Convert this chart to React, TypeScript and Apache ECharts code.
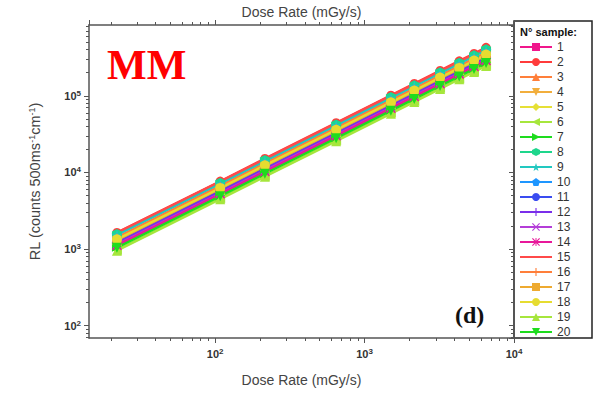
import React, { useEffect, useRef } from "react";
import * as echarts from "echarts";

// ---- Data ----
const doseRate = [22, 108, 215, 645, 1500, 2150, 3200, 4300, 5400, 6500];

const sample1 = [1170, 5500, 10800, 31500, 72000, 103000, 151000, 202000, 252000, 302000];
const sample2 = [1650, 7700, 15200, 44500, 102000, 145000, 214000, 286000, 358000, 430000];
const sample3 = [1430, 6700, 13200, 38500, 88000, 125000, 185000, 246000, 308000, 368000];
const sample4 = [1330, 6200, 12200, 35700, 81600, 116000, 171000, 228000, 285000, 342000];
const sample5 = [1370, 6400, 12600, 36800, 84000, 120000, 176000, 235000, 294000, 352000];
const sample6 = [975, 4600, 9000, 26300, 60000, 85500, 126000, 168000, 210000, 251000];
const sample7 = [1070, 5000, 9800, 28700, 65600, 93500, 138000, 184000, 230000, 275000];
const sample8 = [1570, 7350, 14500, 42300, 96500, 137500, 203000, 270000, 338000, 405000];
const sample9 = [1520, 7100, 14000, 41000, 93600, 133000, 197000, 262000, 328000, 392000];
const sample10 = [1365, 6400, 12600, 36700, 84000, 119700, 176000, 235000, 294000, 352000];
const sample11 = [1235, 5800, 11400, 33200, 76000, 108000, 160000, 213000, 266000, 318000];
const sample12 = [1200, 5600, 11000, 32200, 73600, 105000, 155000, 206000, 258000, 308000];
const sample13 = [1145, 5370, 10600, 30800, 70400, 100000, 148000, 197000, 246000, 295000];
const sample14 = [1120, 5250, 10300, 30100, 68800, 98000, 144000, 193000, 241000, 288000];
const sample15 = [1630, 7600, 15000, 43800, 100000, 142000, 210000, 280000, 350000, 420000];
const sample16 = [1400, 6600, 13000, 37800, 86400, 123000, 181000, 242000, 302000, 362000];
const sample17 = [1300, 6100, 12000, 35000, 80000, 114000, 168000, 224000, 280000, 335000];
const sample18 = [1340, 6280, 12400, 36000, 82400, 117000, 173000, 231000, 288000, 345000];
const sample19 = [950, 4450, 8760, 25500, 58400, 83200, 123000, 164000, 204000, 245000];
const sample20 = [1040, 4880, 9600, 28000, 64000, 91000, 134000, 179000, 224000, 268000];

const sampleNames = ["1", "2", "3", "4", "5", "6", "7", "8", "9", "10", "11", "12", "13", "14", "15", "16", "17", "18", "19", "20"];
const sampleValues = [
  sample1, sample2, sample3, sample4, sample5, sample6, sample7, sample8, sample9, sample10,
  sample11, sample12, sample13, sample14, sample15, sample16, sample17, sample18, sample19, sample20,
];

const xMinorTicks = [20, 30, 40, 50, 60, 70, 80, 90, 200, 300, 400, 500, 600, 700, 800, 900, 2000, 3000, 4000, 5000, 6000, 7000, 8000, 9000];
const yMinorTicks = [70, 80, 90, 200, 300, 400, 500, 600, 700, 800, 900, 2000, 3000, 4000, 5000, 6000, 7000, 8000, 9000,
  20000, 30000, 40000, 50000, 60000, 70000, 80000, 90000, 200000, 300000, 400000, 500000, 600000, 700000, 800000];

// ---- Styles ----
const colors = [
  "#F0168C", "#FF3B3B", "#FF7F3A", "#F2AE3C", "#E6E036", "#A6E63C", "#1EDC1E", "#1ED68C", "#22C8C0", "#1E96FF",
  "#3A4CF0", "#7A2EEA", "#B43ED8", "#E8189A", "#FF4A4A", "#FF7F3A", "#EEAA30", "#E6DC30", "#A6E63C", "#1EDC1E",
];
const triDown = "path://M0,0L10,0L5,9Z";
const triLeft = "path://M9,0L9,10L0,5Z";
const triRight = "path://M0,0L9,5L0,10Z";
const hexagon = "path://M5,0L9.33,2.5L9.33,7.5L5,10L0.67,7.5L0.67,2.5Z";
const star = "path://M5,0L6.18,3.38L9.76,3.45L6.9,5.62L7.94,9.05L5,7L2.06,9.05L3.1,5.62L0.24,3.45L3.82,3.38Z";
const pentagon = "path://M5,0L9.76,3.45L7.94,9.05L2.06,9.05L0.24,3.45Z";
const plus = "path://M4.3,0H5.7V4.3H10V5.7H5.7V10H4.3V5.7H0V4.3H4.3Z";
const cross = "path://M1,0L5,4L9,0L10,1L6,5L10,9L9,10L5,6L1,10L0,9L4,5L0,1Z";
const asterisk = "path://M1,0L5,4L9,0L10,1L6,5L10,9L9,10L5,6L1,10L0,9L4,5L0,1ZM4.4,0H5.6V10H4.4Z";
const symbols = [
  "rect", "circle", "triangle", triDown, "diamond", triLeft, triRight, hexagon, star, pentagon,
  "circle", plus, cross, asterisk, "none", plus, "rect", "circle", "triangle", triDown,
];
const symbolSizes = [9, 9, 10, 10, 10, 10, 10, 10, 11, 10, 8, 10, 9, 10, 0, 8, 9, 10, 10, 10];

const X_MIN = 14.3, X_MAX = 10000, Y_MIN = 69, Y_MAX = 840000;
const axisColor = "#555";
const font = "Liberation Sans, Arial, sans-serif";

const powLabel = (v: number) => {
  const l = Math.log10(v);
  const e = Math.round(l);
  if (Math.abs(l - e) > 1e-6) return "";
  return `{b|10}{s|${e}}`;
};
const labelRich = {
  b: { fontSize: 11, fontWeight: "bold", color: "#333", fontFamily: font },
  s: { fontSize: 8, fontWeight: "bold", color: "#333", fontFamily: font, verticalAlign: "top", padding: [0, 0, 5, 0] },
};

export default function App() {
  const ref = useRef<HTMLDivElement>(null);
  useEffect(() => {
    if (!ref.current) return;
    const chart = echarts.init(ref.current, undefined, { renderer: "svg" });
    const series = sampleNames.map((name, i) => ({
      name,
      type: "line",
      xAxisIndex: 0,
      yAxisIndex: 0,
      data: doseRate.map((x, j) => [x, sampleValues[i][j]]),
      symbol: symbols[i],
      symbolSize: symbolSizes[i],
      showSymbol: symbols[i] !== "none",
      lineStyle: { color: colors[i], width: 2.2 },
      itemStyle: { color: colors[i] },
      emphasis: { disabled: true },
    }));
    const minorAxisCommon = {
      type: "value",
      gridIndex: 0,
      axisLine: { show: false, onZero: false },
      axisLabel: { show: false },
      splitLine: { show: false },
    };
    chart.setOption({
      animation: false,
      grid: { left: 89, top: 24, width: 425, height: 314, containLabel: false },
      xAxis: [
        {
          type: "log", gridIndex: 0, position: "bottom", min: X_MIN, max: X_MAX,
          axisLine: { onZero: false, lineStyle: { color: axisColor, width: 1.5 } },
          axisTick: { length: 5, lineStyle: { color: axisColor, width: 1 } },
          axisLabel: { formatter: powLabel, rich: labelRich, margin: 9, showMinLabel: false },
          splitLine: { show: false },
          name: "Dose Rate (mGy/s)", nameLocation: "middle", nameGap: 35,
          nameTextStyle: { fontSize: 14, color: "#444", fontFamily: font },
        },
        {
          type: "log", gridIndex: 0, position: "top", min: X_MIN, max: X_MAX,
          axisLine: { onZero: false, lineStyle: { color: axisColor, width: 1.5 } },
          axisTick: { length: 5, lineStyle: { color: axisColor, width: 1 } },
          axisLabel: { show: false },
          splitLine: { show: false },
          name: "Dose Rate (mGy/s)", nameLocation: "middle", nameGap: 6,
          nameTextStyle: { fontSize: 14, color: "#444", fontFamily: font },
        },
        {
          ...minorAxisCommon, position: "bottom", min: Math.log10(X_MIN), max: Math.log10(X_MAX),
          axisTick: { length: 3, customValues: xMinorTicks.map((v) => Math.log10(v)), lineStyle: { color: axisColor, width: 1 } },
        },
        {
          ...minorAxisCommon, position: "top", min: Math.log10(X_MIN), max: Math.log10(X_MAX),
          axisTick: { length: 3, customValues: xMinorTicks.map((v) => Math.log10(v)), lineStyle: { color: axisColor, width: 1 } },
        },
      ],
      yAxis: [
        {
          type: "log", gridIndex: 0, position: "left", min: Y_MIN, max: Y_MAX,
          axisLine: { onZero: false, lineStyle: { color: axisColor, width: 1.5 } },
          axisTick: { length: 5, lineStyle: { color: axisColor, width: 1 } },
          axisLabel: { formatter: powLabel, rich: labelRich, margin: 8, showMinLabel: false, showMaxLabel: false },
          splitLine: { show: false },
          name: "{a|RL (counts 500ms}{s|-1}{a|cm}{s|-1}{a|)}", nameLocation: "middle", nameGap: 47, nameRotate: 90,
          nameTextStyle: {
            rich: {
              a: { fontSize: 14.5, color: "#444", fontFamily: font },
              s: { fontSize: 9, color: "#444", fontFamily: font, verticalAlign: "top", padding: [0, 0, 6, 0] },
            },
          },
        },
        {
          type: "log", gridIndex: 0, position: "right", min: Y_MIN, max: Y_MAX,
          axisLine: { onZero: false, lineStyle: { color: axisColor, width: 1.5 } },
          axisTick: { inside: true, length: 5, lineStyle: { color: axisColor, width: 1 } },
          axisLabel: { show: false },
          splitLine: { show: false },
        },
        {
          ...minorAxisCommon, position: "left", min: Math.log10(Y_MIN), max: Math.log10(Y_MAX),
          axisTick: { length: 3, customValues: yMinorTicks.map((v) => Math.log10(v)), lineStyle: { color: axisColor, width: 1 } },
        },
        {
          ...minorAxisCommon, position: "right", min: Math.log10(Y_MIN), max: Math.log10(Y_MAX),
          axisTick: { inside: true, length: 3, customValues: yMinorTicks.map((v) => Math.log10(v)), lineStyle: { color: axisColor, width: 1 } },
        },
      ],
      legend: {
        orient: "vertical",
        left: 519,
        top: 41,
        padding: 0,
        itemWidth: 32,
        itemHeight: 10,
        itemGap: 3,
        selectedMode: false,
        textStyle: { fontSize: 12, lineHeight: 12, color: "#333", fontFamily: font },
        data: sampleNames.map((n, i) =>
          symbols[i] === "none" ? { name: n, itemStyle: { opacity: 0 } } : { name: n }
        ),
      },
      graphic: [
        {
          type: "rect", shape: { x: 514, y: 21, width: 78, height: 317 },
          style: { fill: "none", stroke: "#222", lineWidth: 1.5 }, silent: true,
        },
        {
          type: "text", left: 520, top: 26,
          style: { text: "N° sample:", font: `bold 11px ${font}`, fill: "#111" },
        },
        {
          type: "text", left: 107, top: 44,
          style: { text: "MM", font: 'bold 42px "Liberation Serif", "Times New Roman", serif', fill: "#FF0000" },
        },
        {
          type: "text", left: 455, top: 303,
          style: { text: "(d)", font: 'bold 24px "Liberation Serif", "Times New Roman", serif', fill: "#111" },
        },
      ],
      series,
    });
    return () => chart.dispose();
  }, []);
  return <div ref={ref} style={{ width: 594, height: 393, position: "absolute", left: 0, top: 0 }} />;
}
